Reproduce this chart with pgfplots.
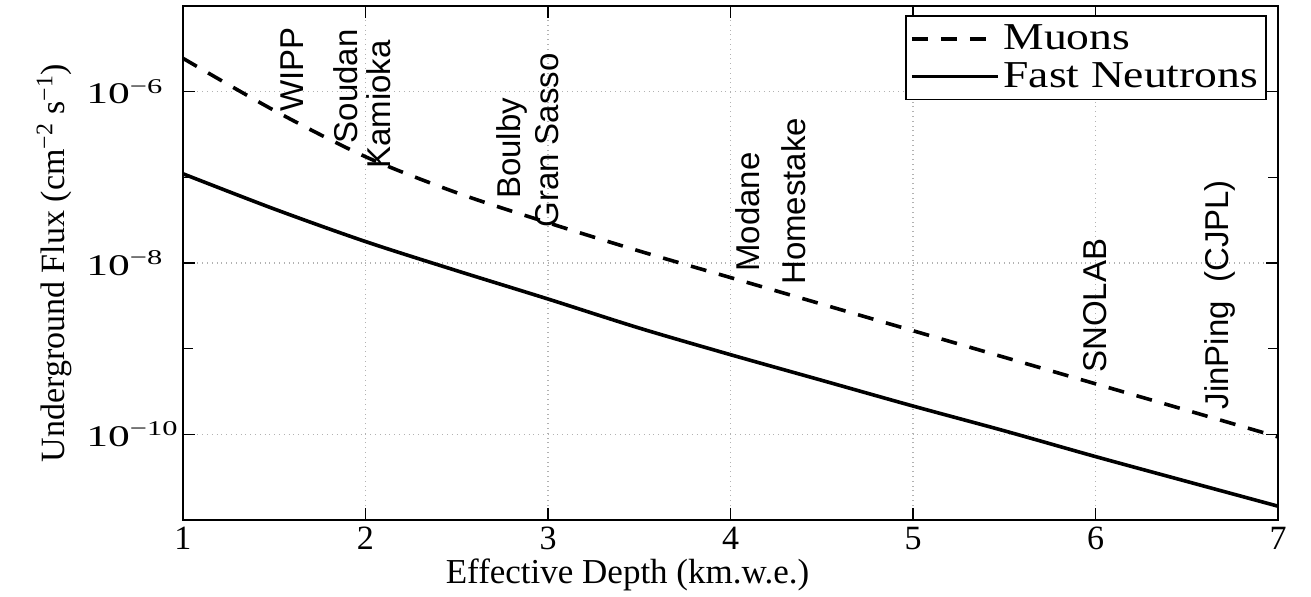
\documentclass[border=0pt]{standalone}
\usepackage{fontspec}
\setmainfont{Liberation Serif}
\newfontfamily\arial{Liberation Sans}
\usepackage{pgfplots}
\pgfplotsset{compat=1.18}
\newcommand\ylab[1]{\scalebox{1.45}[1]{\fontsize{15}{15}\selectfont 10\textsuperscript{−#1}}}
\begin{document}
\begin{tikzpicture}
\begin{axis}[
  scale only axis, width=547.5pt, height=257pt,
  ymode=log, xmin=1, xmax=7, ymin=1e-11, ymax=1e-5,
  xtick={1,2,3,4,5,6,7}, xticklabels={1,2,3,4,5,6,7},
  ytick={1e-10,1e-8,1e-6},
  yticklabels={\ylab{10},\ylab{8},\ylab{6}},
  minor ytick={1e-9,1e-7},
  grid=major,
  major grid style={dotted, gray!60, line width=0.8pt},
  tick align=inside, major tick length=6pt, minor tick length=5pt,
  axis line style={line width=1pt},
  every tick/.style={black, line width=0.8pt},
  xticklabel style={font=\fontsize{17}{17}\selectfont},
  yticklabel style={anchor=west, inner sep=0pt, xshift=-48.5pt},
  xlabel={Effective Depth (km.w.e.)},
  xlabel style={at={(axis description cs:0.406,0)}, anchor=base, yshift=-31.5pt, font=\fontsize{17.5}{17.5}\selectfont},
  ylabel={Underground Flux (cm\textsuperscript{−2} s\textsuperscript{−1})},
  ylabel style={at={(axis description cs:-0.1078,0.5)}, anchor=base, font=\fontsize{17}{17}\selectfont},
  legend style={at={(rel axis cs:1,1)}, anchor=north east, xshift=-5.5pt, yshift=-4.5pt,
    draw=black, line width=0.8pt, font=\fontsize{19}{19}\selectfont,
    inner xsep=2pt, inner ysep=2.5pt, row sep=1pt},
  legend cell align=left,
  legend image code/.code={\draw[#1] (0pt,0pt) -- (43pt,0pt);},
]
\addplot[black, line width=1.8pt, smooth, dash pattern=on 8pt off 6.5pt] coordinates {
 (1,2.45e-6) (1.5,6.03e-7) (2,1.74e-7) (2.5,6.61e-8) (3,2.95e-8) (3.5,1.38e-8)
 (4,6.76e-9) (4.5,3.31e-9) (5,1.62e-9) (5.5,7.94e-10) (6,3.89e-10) (6.5,1.91e-10) (7,9.33e-11)};
\addlegendentry{\scalebox{1.2}[1]{Muons}}
\addplot[black, line width=1.8pt, smooth] coordinates {
 (1,1.10e-7) (1.5,4.27e-8) (2,1.78e-8) (2.5,8.13e-9) (3,3.80e-9) (3.5,1.74e-9)
 (4,8.51e-10) (4.5,4.27e-10) (5,2.14e-10) (5.5,1.10e-10) (6,5.50e-11) (6.5,2.82e-11) (7,1.45e-11)};
\addlegendentry{\scalebox{1.2}[1]{Fast Neutrons}}
\begin{scope}[every node/.style={rotate=90, font=\arial\fontsize{16.5}{16.5}\selectfont}]
\node at (axis cs:1.597,1.80e-6) {WIPP};
\node at (axis cs:1.893,1.15e-6) {Soudan};
\node at (axis cs:2.074,7.1e-7) {Kamioka};
\node at (axis cs:2.803,2.17e-7) {Boulby};
\node at (axis cs:2.995,2.69e-7) {Gran Sasso};
\node at (axis cs:4.096,3.92e-8) {Modane};
\node at (axis cs:4.348,5.25e-8) {Homestake};
\node at (axis cs:5.997,3.16e-9) {SNOLAB};
\node at (axis cs:6.682,4.27e-9) {JinPing\ \ (CJPL)};
\end{scope}
\end{axis}
\pgfresetboundingbox
\path ([shift={(-91.5pt,-38.5pt)}]current axis.south west) rectangle ([shift={(16.5pt,3pt)}]current axis.north east);
\end{tikzpicture}
\end{document}
